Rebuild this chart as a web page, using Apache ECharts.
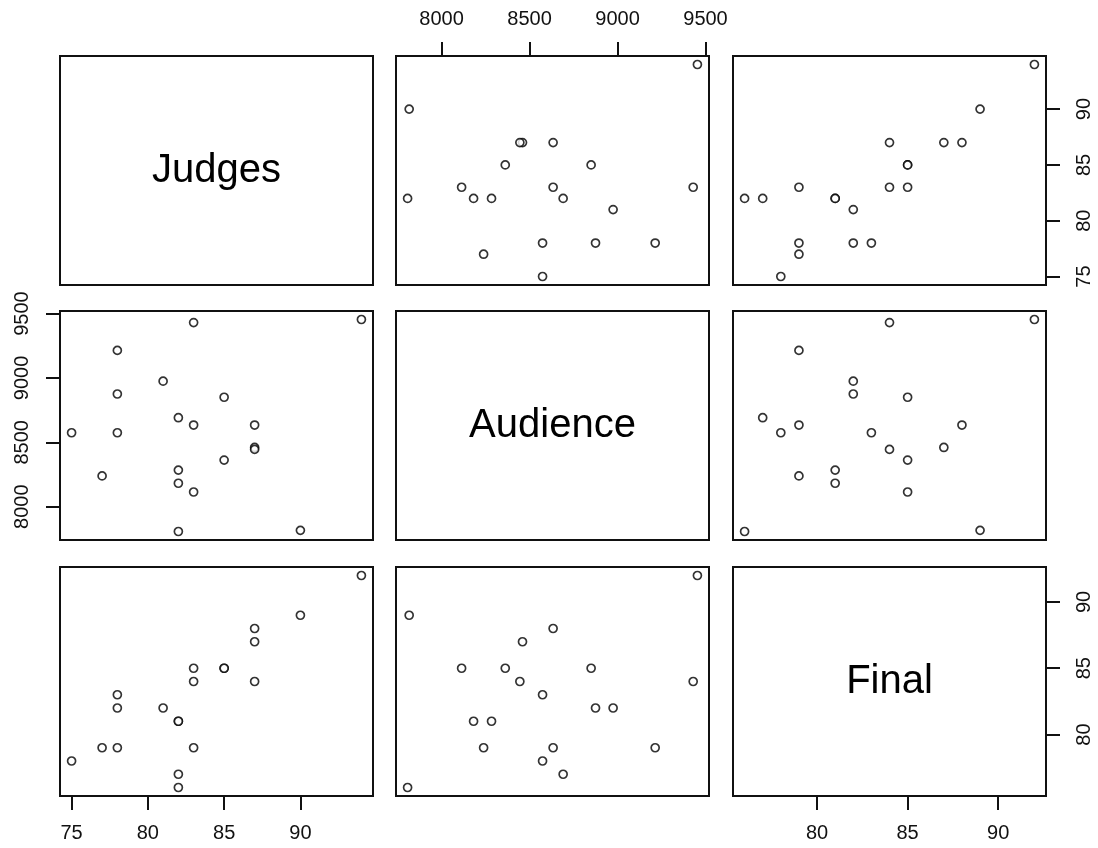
<!DOCTYPE html>
<html>
<head>
<meta charset="utf-8">
<script src="https://cdn.jsdelivr.net/npm/echarts@6/dist/echarts.min.js"></script>
<style>
  html, body { margin: 0; padding: 0; background: #fff; }
  #chart { width: 1098px; height: 848px; }
</style>
</head>
<body>
<div id="chart"></div>
<script>
// ---- data (one entry per observation) ----
const varNames = ['Judges', 'Audience', 'Final'];
const judges   = [94, 90, 87, 87, 87, 85, 85, 83, 83, 83, 82, 82, 82, 82, 81, 78, 78, 78, 77, 75];
const audience = [9454, 7816, 8460, 8445, 8634, 8362, 8850, 8114, 8634, 9430, 7807, 8182, 8284, 8691, 8975, 8574, 8875, 9214, 8239, 8574];
const final    = [92, 89, 87, 84, 88, 85, 85, 85, 79, 84, 76, 81, 81, 77, 82, 83, 82, 79, 79, 78];
const judgesTicks   = [75, 80, 85, 90];
const audienceTicks = [8000, 8500, 9000, 9500];
const finalTicks    = [80, 85, 90];

const vars  = [judges, audience, final];
const ticks = [judgesTicks, audienceTicks, finalTicks];

// ---- layout ----
const colLeft = [60, 396, 733];
const rowTop  = [56, 311, 567];
const panelW = 313, panelH = 229;
const FONT = '"Liberation Sans", Arial, sans-serif';

function range(arr) {
  const mn = Math.min(...arr), mx = Math.max(...arr);
  const pad = (mx - mn) * 0.04;
  return [mn - pad, mx + pad];
}

const n = varNames.length;
const grids = [], xAxes = [], yAxes = [], series = [], graphics = [];
let gi = 0;
for (let r = 0; r < n; r++) {
  for (let c = 0; c < n; c++) {
    grids.push({
      left: colLeft[c], top: rowTop[r], width: panelW, height: panelH,
      show: true, borderColor: '#111', borderWidth: 2, backgroundColor: 'transparent',
      containLabel: false
    });
    const xr = range(vars[c]), yr = range(vars[r]);
    const xTop = (c % 2 === 1) && r === 0;
    const xBottom = (c % 2 === 0) && r === n - 1;
    const yLeft = (r % 2 === 1) && c === 0;
    const yRight = (r % 2 === 0) && c === n - 1;
    const showX = xTop || xBottom;
    const showY = yLeft || yRight;
    const labelStyle = { color: '#111', fontSize: 20, fontFamily: FONT };
    xAxes.push({
      gridIndex: gi, type: 'value', min: xr[0], max: xr[1],
      position: xTop ? 'top' : 'bottom',
      axisLine: { show: false },
      splitLine: { show: false },
      axisTick: { show: showX, length: 14, lineStyle: { color: '#111', width: 2 }, customValues: ticks[c] },
      axisLabel: Object.assign({ show: showX, margin: 27, customValues: ticks[c], formatter: v => String(v) }, labelStyle)
    });
    yAxes.push({
      gridIndex: gi, type: 'value', min: yr[0], max: yr[1],
      position: yLeft ? 'left' : 'right',
      axisLine: { show: false },
      splitLine: { show: false },
      axisTick: { show: showY, length: 14, lineStyle: { color: '#111', width: 2 }, customValues: ticks[r] },
      axisLabel: Object.assign({ show: showY, margin: 28, rotate: 90, customValues: ticks[r], formatter: v => String(v) }, labelStyle)
    });
    if (r === c) {
      graphics.push({
        type: 'text',
        x: colLeft[c] + panelW / 2,
        y: rowTop[r] + panelH / 2,
        style: { text: varNames[r], font: '40px ' + FONT, fill: '#000', align: 'center', verticalAlign: 'middle' },
        silent: true
      });
    } else {
      const pts = vars[c].map((v, i) => [v, vars[r][i]]);
      series.push({
        type: 'scatter', xAxisIndex: gi, yAxisIndex: gi, data: pts,
        symbol: 'circle', symbolSize: 8, silent: true,
        itemStyle: { color: '#fff', borderColor: '#000', borderWidth: 1.7 }
      });
    }
    gi++;
  }
}

const chart = echarts.init(document.getElementById('chart'), null, { renderer: 'canvas' });
chart.setOption({
  animation: false,
  backgroundColor: '#fff',
  grid: grids, xAxis: xAxes, yAxis: yAxes, series: series,
  graphic: graphics
});
</script>
</body>
</html>
